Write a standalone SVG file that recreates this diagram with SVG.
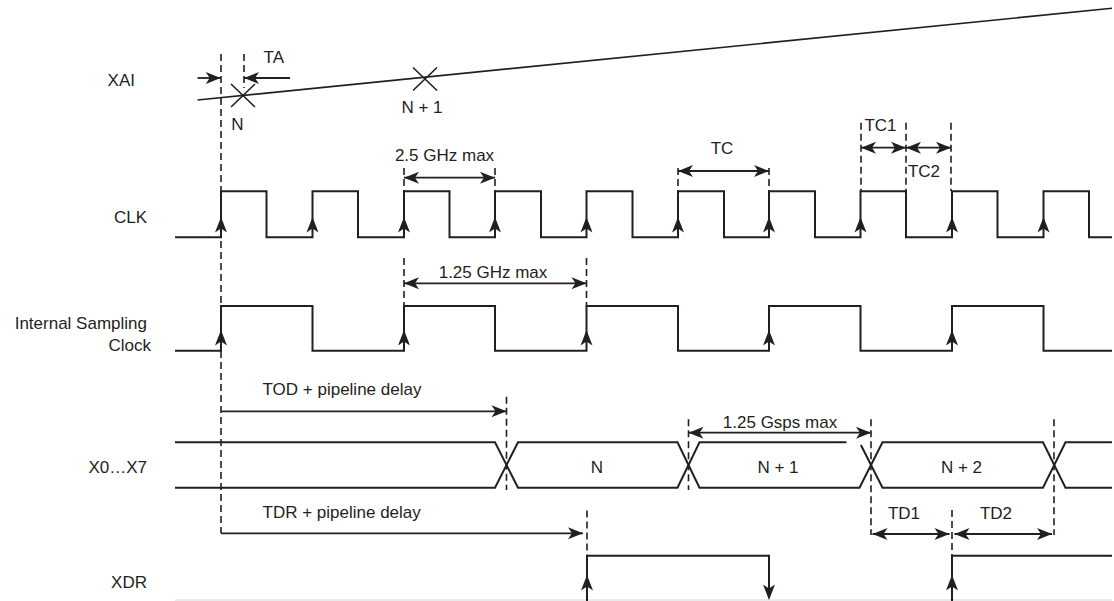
<svg xmlns="http://www.w3.org/2000/svg" width="1114" height="601" viewBox="0 0 1114 601">
<defs>
<style>
.sig{fill:none;stroke:#231f20;stroke-width:2}
.thin{fill:none;stroke:#231f20;stroke-width:1.6}
.dash{fill:none;stroke:#231f20;stroke-width:1.6;stroke-dasharray:7 4}
.dim{fill:none;stroke:#231f20;stroke-width:1.8}
.one{marker-end:url(#ah)}
.two{marker-start:url(#ah);marker-end:url(#ah)}
text{font-family:"Liberation Sans",Arial,Helvetica,sans-serif;font-size:17px;fill:#231f20}
.c{text-anchor:middle}
.e{text-anchor:end}
</style>
<marker id="ah" viewBox="-16 -7 17 14" refX="0" refY="0" markerWidth="17" markerHeight="14" markerUnits="userSpaceOnUse" orient="auto-start-reverse">
<path d="M0,0 L-15,-6 L-11,0 L-15,6 Z" fill="#231f20"/>
</marker>
<path id="up" d="M0,0 L-6,15.5 L0,11.5 L6,15.5 Z" fill="#231f20"/>
</defs>
<rect width="1114" height="601" fill="#fff"/>

<g id="sig-xai">
<text class="e" x="135" y="86">XAI</text>
<line class="thin" x1="197.5" y1="100" x2="1112" y2="8.3"/>
<path class="thin" d="M231,84 L255,107 M231,107 L255,84"/>
<path class="thin" d="M413,67.5 L437,90.5 M413,90.5 L437,67.5"/>
<text class="c" x="237.5" y="130">N</text>
<text class="c" x="422" y="113">N + 1</text>
</g>

<g id="sig-clk">
<text class="e" x="147" y="222.5">CLK</text>
<path class="sig" d="M175,237.3 H221 V191.3 H266.5 V237.3 H312.5 V191.3 H358 V237.3 H404 V191.3 H449.5 V237.3 H495 V191.3 H541 V237.3 H586.5 V191.3 H632.5 V237.3 H678 V191.3 H724 V237.3 H769 V191.3 H815 V237.3 H860.5 V191.3 H906 V237.3 H952 V191.3 H997.5 V237.3 H1043.5 V191.3 H1089 V237.3 H1112"/>
<use href="#up" x="221" y="217"/>
<use href="#up" x="312.5" y="217"/>
<use href="#up" x="404" y="217"/>
<use href="#up" x="495" y="217"/>
<use href="#up" x="586.5" y="217"/>
<use href="#up" x="678" y="217"/>
<use href="#up" x="769" y="217"/>
<use href="#up" x="860.5" y="217"/>
<use href="#up" x="952" y="217"/>
<use href="#up" x="1043.5" y="217"/>
</g>

<g id="sig-isc">
<text class="e" x="147" y="329">Internal Sampling</text>
<text class="e" x="151" y="351">Clock</text>
<path class="sig" d="M175,350.7 H221 V306 H312.5 V350.7 H404 V306 H495 V350.7 H586.5 V306 H678 V350.7 H769 V306 H860.5 V350.7 H952 V306 H1043.5 V350.7 H1112"/>
<use href="#up" x="221" y="330"/>
<use href="#up" x="404" y="330"/>
<use href="#up" x="586.5" y="330"/>
<use href="#up" x="769" y="330"/>
<use href="#up" x="952" y="330"/>
</g>

<g id="sig-data">
<text class="e" x="147" y="473">X0…X7</text>
<path class="sig" d="M175,442.3 H495 L518,487.7 H677.5 L699.5,442.3 H846.5 M860.9,445 L882.5,487.7 H1043 L1065.5,442.3 H1112"/>
<path class="sig" d="M175,487.7 H495 L518,442.3 H677.5 L699.5,487.7 H859.5 L882.5,442.3 H1043 L1065.5,487.7 H1112"/>
<text class="c" x="597" y="473">N</text>
<text class="c" x="778" y="473">N + 1</text>
<text class="c" x="961.5" y="473">N + 2</text>
</g>

<g id="sig-xdr">
<text class="e" x="147" y="587.5">XDR</text>
<line x1="175" y1="600" x2="1112" y2="600" stroke="#e2e2e2" stroke-width="1.5"/>
<path class="sig" d="M587,601 V555.7 H769 V598 M952,601 V555.7 H1112"/>
<use href="#up" x="587" y="575"/>
<use href="#up" x="952" y="575"/>
<use href="#up" transform="translate(769,600) rotate(180)"/>
</g>

<g id="connectors">
<path class="dash" d="M221,54 V533.3"/>
<path class="dash" d="M244,54 V88"/>
<path class="dash" d="M404,168 V191 M495,168 V191"/>
<path class="dash" d="M678,168 V191 M769,168 V191"/>
<path class="dash" d="M861,122.7 V191 M906,122.7 V191 M951,122.7 V191"/>
<path class="dash" d="M404,258 V306 M586.5,258 V306"/>
<path class="dash" d="M506.5,396.7 V490"/>
<path class="dash" d="M688.5,419.3 V490"/>
<path class="dash" d="M871,419.3 V535 M1054,419.3 V535"/>
<path class="dash" d="M587,510.5 V556 M952,510 V556"/>

<line class="dim one" x1="197.5" y1="78" x2="220.7" y2="78"/>
<line class="dim one" x1="290" y1="78" x2="244" y2="78"/>
<text x="263.6" y="63">TA</text>

<line class="dim two" x1="404" y1="177.7" x2="495" y2="177.7"/>
<text class="c" x="444.5" y="161">2.5 GHz max</text>

<line class="dim two" x1="678" y1="171" x2="769" y2="171"/>
<text class="c" x="722" y="154">TC</text>

<line class="dim two" x1="861" y1="147.7" x2="906" y2="147.7"/>
<line class="dim two" x1="906" y1="147.7" x2="951" y2="147.7"/>
<text class="c" x="880.5" y="131">TC1</text>
<text class="c" x="924" y="177">TC2</text>

<line class="dim two" x1="404" y1="283.3" x2="586.5" y2="283.3"/>
<text class="c" x="493" y="277.5">1.25 GHz max</text>

<line class="dim one" x1="221" y1="411.3" x2="506.5" y2="411.3"/>
<text x="262.5" y="395">TOD + pipeline delay</text>

<line class="dim two" x1="688.5" y1="432.7" x2="871" y2="432.7"/>
<text class="c" x="780" y="427.5">1.25 Gsps max</text>

<line class="dim one" x1="221" y1="533.3" x2="583" y2="533.3"/>
<text x="262.5" y="518">TDR + pipeline delay</text>

<line class="dim two" x1="872.5" y1="534" x2="949.5" y2="534"/>
<line class="dim two" x1="954.5" y1="534" x2="1052" y2="534"/>
<text class="c" x="904" y="518.5">TD1</text>
<text class="c" x="996" y="518.5">TD2</text>
</g>
</svg>
